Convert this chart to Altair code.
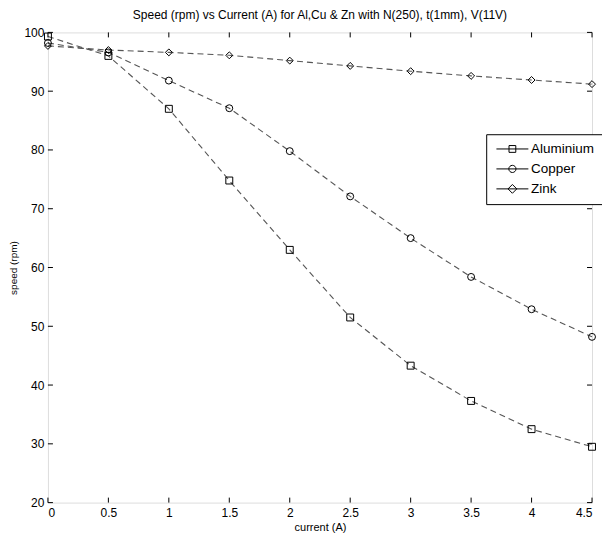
import altair as alt
import pandas as pd

current = [0, 0.5, 1, 1.5, 2, 2.5, 3, 3.5, 4, 4.5]
aluminium = [99.3, 96.0, 87.0, 74.8, 63.0, 51.5, 43.3, 37.3, 32.5, 29.5]
copper = [98.2, 96.6, 91.8, 87.1, 79.8, 72.1, 65.0, 58.4, 52.9, 48.2]
zink = [97.7, 97.0, 96.6, 96.1, 95.2, 94.3, 93.4, 92.6, 91.9, 91.2]
materials = ["Aluminium", "Copper", "Zink"]
x_ticks = [0, 0.5, 1, 1.5, 2, 2.5, 3, 3.5, 4, 4.5]
y_ticks = [20, 30, 40, 50, 60, 70, 80, 90, 100]

rows = []
for name, vals in zip(materials, [aluminium, copper, zink]):
    for c, v in zip(current, vals):
        rows.append({"current": c, "speed": v, "material": name})
df = pd.DataFrame(rows)
xt_df = pd.DataFrame({"t": x_ticks})
yt_df = pd.DataFrame({"t": y_ticks})

FONT = "Liberation Sans"
xs = alt.Scale(domain=[0, 4.5], nice=False, zero=False)
ys = alt.Scale(domain=[20, 100], nice=False, zero=False)

base = alt.Chart(df)

lines = base.mark_line(strokeDash=[6, 4], color="#555555", strokeWidth=1.1).encode(
    x=alt.X("current:Q", scale=xs,
            axis=alt.Axis(orient="bottom", values=x_ticks, format="~g", ticks=False,
                          domain=False, grid=False, labelPadding=5,
                          title="current (A)", titlePadding=3, titleFontSize=11,
                          titleFontWeight="normal", labelFontSize=12)),
    y=alt.Y("speed:Q", scale=ys,
            axis=alt.Axis(orient="left", values=y_ticks, ticks=False, domain=False,
                          grid=False, labelPadding=4, title="speed (rpm)",
                          titlePadding=5, titleFontSize=10, titleFontWeight="normal",
                          labelFontSize=12)),
    detail="material:N",
    order="current:Q",
)

def pts(name, shape):
    return base.transform_filter(alt.datum.material == name).mark_point(
        shape=shape, size=48, filled=False, color="black", strokeWidth=1, opacity=1
    ).encode(
        x=alt.X("current:Q", scale=xs),
        y=alt.Y("speed:Q", scale=ys),
    )

p_al = pts("Aluminium", "square")
p_cu = pts("Copper", "circle")
p_zn = pts("Zink", "diamond")

# inward axis ticks on all four sides of the box
rs = dict(color="black", strokeWidth=1, opacity=1)
t_bottom = alt.Chart(xt_df).mark_rule(y2Offset=-5, **rs).encode(
    x=alt.X("t:Q", scale=xs), y=alt.datum(y_ticks[0]), y2=alt.datum(y_ticks[0]))
t_top = alt.Chart(xt_df).mark_rule(y2Offset=5, **rs).encode(
    x=alt.X("t:Q", scale=xs), y=alt.datum(y_ticks[-1]), y2=alt.datum(y_ticks[-1]))
t_left = alt.Chart(yt_df).mark_rule(x2Offset=5, **rs).encode(
    y=alt.Y("t:Q", scale=ys), x=alt.datum(x_ticks[0]), x2=alt.datum(x_ticks[0]))
t_right = alt.Chart(yt_df).mark_rule(x2Offset=-5, **rs).encode(
    y=alt.Y("t:Q", scale=ys), x=alt.datum(x_ticks[-1]), x2=alt.datum(x_ticks[-1]))

paths = [
    "M -4 0 H 4 M -0.85 -0.85 H 0.85 V 0.85 H -0.85 Z",
    "M -4 0 H 4 M -0.9 0 A 0.9 0.9 0 1 0 0.9 0 A 0.9 0.9 0 1 0 -0.9 0",
    "M -4 0 H 4 M 0 -1.1 L 1.1 0 L 0 1.1 L -1.1 0 Z",
]

legend_layer = base.transform_filter("false").mark_point(
    filled=False, color="black", strokeWidth=1, opacity=1
).encode(
    shape=alt.Shape("material:N",
                    scale=alt.Scale(domain=materials, range=paths),
                    legend=alt.Legend(orient="none", legendX=439, legendY=102, title=None,
                                      strokeColor="black", fillColor="white", padding=8,
                                      labelFont=FONT, labelFontSize=13.5, labelColor="black",
                                      symbolStrokeColor="black", symbolStrokeWidth=1,
                                      symbolFillColor="transparent", symbolSize=64,
                                      symbolOffset=11.5, labelOffset=12, rowPadding=5,
                                      cornerRadius=0))
)

chart = alt.layer(lines, t_bottom, t_top, t_left, t_right, p_al, p_cu, p_zn,
                  legend_layer).properties(
    width=545, height=471,
    padding={"left": 40, "top": 24, "right": 10, "bottom": 30},
    autosize=alt.AutoSizeParams(type="none"),
    title=alt.TitleParams("Speed (rpm) vs Current (A) for Al,Cu & Zn with N(250), t(1mm), V(11V)",
                          font=FONT, fontSize=12, fontWeight="normal", color="black",
                          offset=4, anchor="middle"),
).configure_view(stroke="black", strokeWidth=1).configure_axis(
    labelFont=FONT, titleFont=FONT, labelColor="black", titleColor="black", grid=False
).configure(background="white")

chart.save("out.html", embed_options={"renderer": "svg", "actions": False})
